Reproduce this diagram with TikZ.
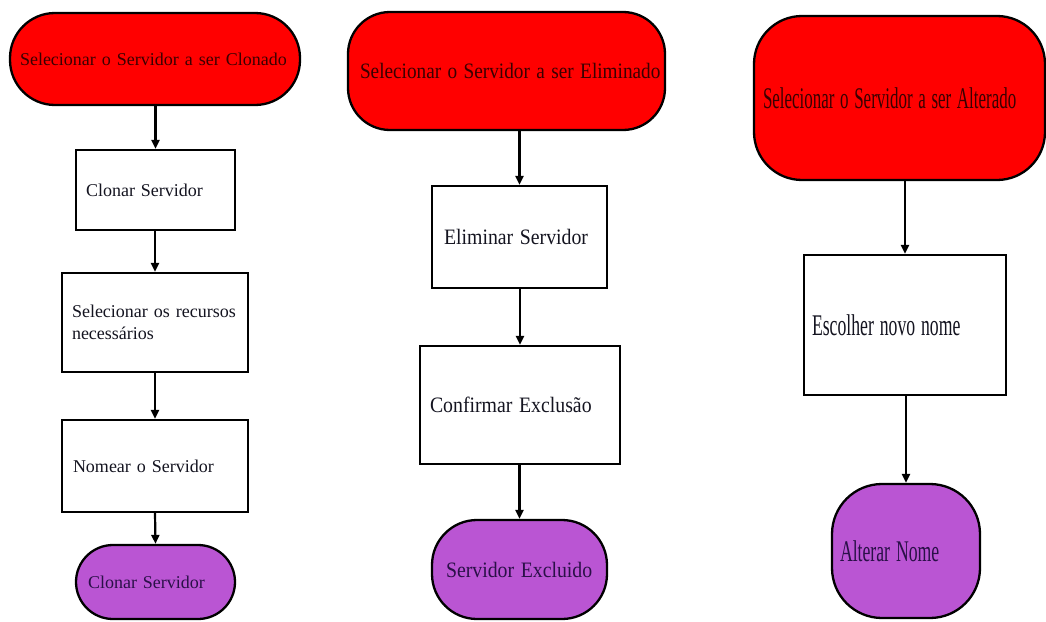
\documentclass[tikz,border=0pt]{standalone}
\usepackage{fontspec}
\setmainfont{Liberation Serif}
\usepackage{graphicx}
\usetikzlibrary{arrows.meta}
\definecolor{startred}{HTML}{FF0000}
\definecolor{endpurple}{HTML}{BA55D3}
\definecolor{redtext}{HTML}{3A0000}
\definecolor{purpletext}{HTML}{2A1048}
\definecolor{boxtext}{HTML}{141420}
\newcommand{\sqB}[1]{\scalebox{0.9}[1]{#1}}
\newcommand{\sqBr}[1]{\scalebox{0.875}[1]{#1}}
\newcommand{\sqC}[1]{\scalebox{0.59}[1]{#1}}
\newcommand{\sqCr}[1]{\scalebox{0.565}[1]{#1}}
\tikzset{
  anynode/.style={draw=black, line width=2.3pt, inner ysep=0pt, align=left, anchor=center},
  startnode/.style={anynode, fill=startred, text=redtext},
  stepbox/.style={anynode, fill=white, text=boxtext},
  endnode/.style={anynode, fill=endpurple, text=purpletext},
  colA/.style={font=\fontsize{18}{22}\selectfont},
  colB/.style={font=\fontsize{22}{26}\selectfont},
  colC/.style={font=\fontsize{30}{34}\selectfont},
  flow/.style={draw=black, line width=2.2pt, -{Triangle[length=9pt,width=8pt]}}
}
\begin{document}
\begin{tikzpicture}[x=1pt,y=-1pt]
\useasboundingbox (0,0) rectangle (1046,621);
\fill[white] (0,0) rectangle (1046,621);
% Column 1
\node[startnode, colA, rounded corners=45pt, inner xsep=10pt, text width=270pt, minimum height=92pt] (r1) at (155,59) {\mbox{Selecionar o Servidor a ser Clonado}};
\node[stepbox, colA, inner xsep=10pt, text width=139pt, minimum height=80pt] (c1) at (155.5,190) {\mbox{Clonar Servidor}};
\node[stepbox, colA, inner xsep=10pt, text width=166pt, minimum height=99pt] (c2) at (155,322.5) {\mbox{Selecionar os recursos}\\\mbox{necessários}};
\node[stepbox, colA, inner xsep=11pt, text width=164pt, minimum height=92pt] (c3) at (155,466) {\mbox{Nomear o Servidor}};
\node[endnode, colA, rounded corners=37pt, inner xsep=12pt, text width=135pt, minimum height=74pt] (c4) at (155.5,582) {\mbox{Clonar Servidor}};
\draw[flow] (c1.north |- r1.south) -- (c1.north);
\draw[flow] (c2.north |- c1.south) -- (c2.north);
\draw[flow] (c2.south) -- (c3.north);
\draw[flow] (c3.south) -- (c4.north);
% Column 2
\node[startnode, colB, rounded corners=42pt, inner xsep=12pt, text width=293pt, minimum height=118pt] (r2) at (506.5,71) {\sqBr{Selecionar o Servidor a ser Eliminado}};
\node[stepbox, colB, inner xsep=12pt, text width=151pt, minimum height=102pt] (e1) at (519.5,237) {\sqB{Eliminar Servidor}};
\node[stepbox, colB, inner xsep=10pt, text width=180pt, minimum height=118pt] (e2) at (520,405) {\sqB{Confirmar Exclusão}};
\node[endnode, colB, rounded corners=45pt, inner xsep=14pt, text width=147pt, minimum height=99pt] (e3) at (519.5,569.5) {\sqB{Servidor Excluido}};
\draw[flow] (e1.north |- r2.south) -- (e1.north);
\draw[flow] (e2.north |- e1.south) -- (e2.north);
\draw[flow] (e3.north |- e2.south) -- (e3.north);
% Column 3
\node[startnode, colC, rounded corners=48pt, inner xsep=9pt, text width=273pt, minimum height=164pt] (r3) at (899.5,98) {\sqCr{Selecionar o Servidor a ser Alterado}};
\node[stepbox, colC, inner xsep=8pt, text width=186pt, minimum height=140pt] (a1) at (905,325) {\sqC{Escolher novo nome}};
\node[endnode, colC, rounded corners=50pt, inner xsep=8pt, text width=132pt, minimum height=134pt] (a2) at (906,551) {\sqC{Alterar Nome}};
\draw[flow] (a1.north |- r3.south) -- (a1.north);
\draw[flow] (a2.north |- a1.south) -- (a2.north);
\end{tikzpicture}
\end{document}
